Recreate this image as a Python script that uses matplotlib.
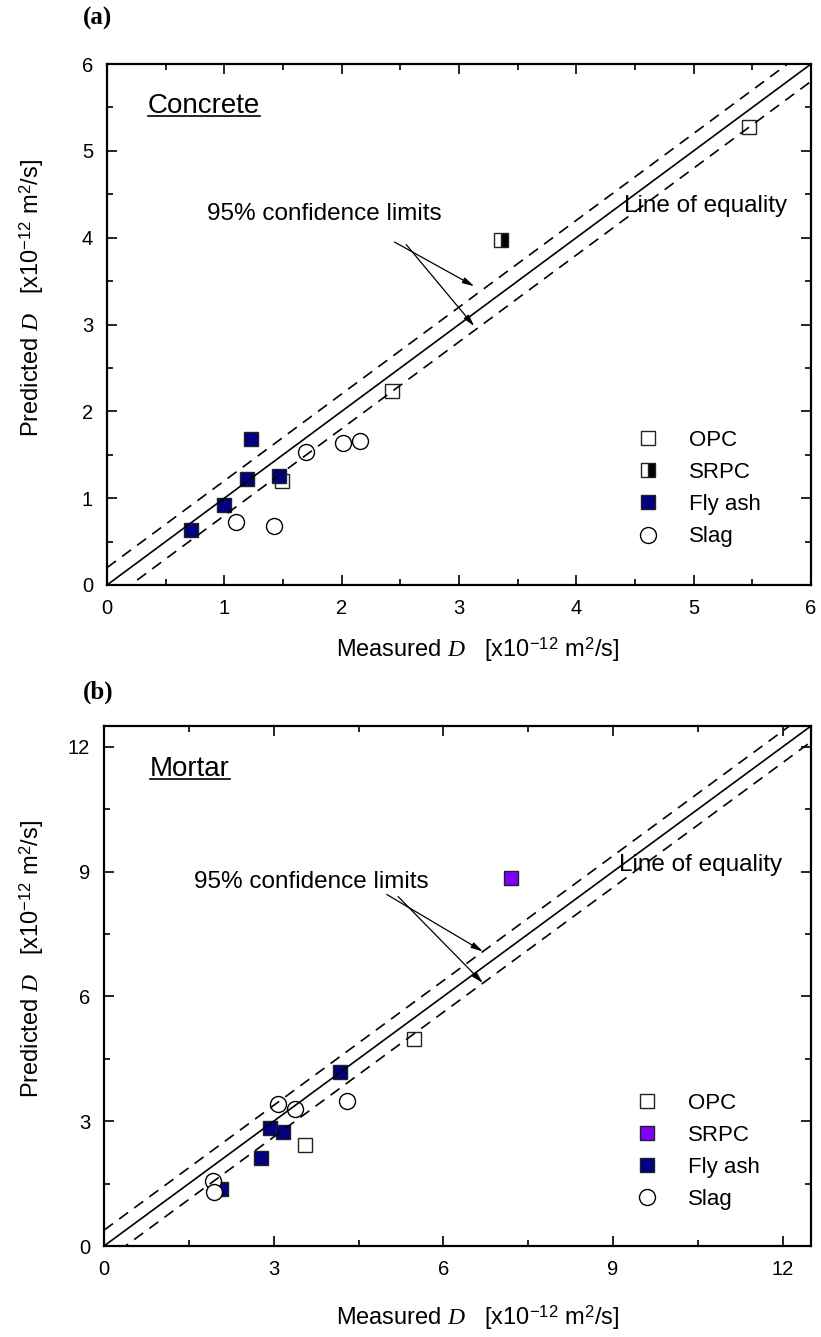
import matplotlib
matplotlib.use('Agg')
import matplotlib.pyplot as plt
from matplotlib.ticker import MultipleLocator
from matplotlib.lines import Line2D

plt.rcParams['font.family'] = ['Liberation Sans', 'DejaVu Sans']
plt.rcParams['mathtext.fontset'] = 'custom'
plt.rcParams['mathtext.rm'] = 'Liberation Sans'
plt.rcParams['mathtext.it'] = 'Liberation Serif:italic'
plt.rcParams['mathtext.bf'] = 'Liberation Sans:bold'
plt.rcParams['lines.scale_dashes'] = False

# ---------------- Data: panel (a) Concrete ----------------
a_opc_x = [1.49, 2.43, 5.47]
a_opc_y = [1.20, 2.23, 5.27]
a_srpc_x = [3.36]
a_srpc_y = [3.97]
a_fly_x = [0.72, 1.00, 1.19, 1.23, 1.47]
a_fly_y = [0.63, 0.92, 1.22, 1.68, 1.25]
a_slag_x = [1.10, 1.42, 1.70, 2.01, 2.16]
a_slag_y = [0.72, 0.68, 1.53, 1.64, 1.66]
a_limit = 0.2

# ---------------- Data: panel (b) Mortar ----------------
b_opc_x = [3.55, 5.48]
b_opc_y = [2.43, 4.98]
b_srpc_x = [7.2]
b_srpc_y = [8.85]
b_fly_x = [2.07, 2.77, 2.93, 3.16, 4.17]
b_fly_y = [1.38, 2.11, 2.84, 2.75, 4.19]
b_slag_x = [1.93, 1.95, 3.08, 3.37, 4.29]
b_slag_y = [1.56, 1.31, 3.42, 3.30, 3.48]
b_limit = 0.38

legend_labels = ['OPC', 'SRPC', 'Fly ash', 'Slag']

fig = plt.figure(figsize=(8.21, 13.37), dpi=100)
W, H = 821, 1337

def px_axes(l, r, t, b):
    return [l / W, 1 - b / H, (r - l) / W, (b - t) / H]

ax_a = fig.add_axes(px_axes(107, 811, 64, 585))
ax_b = fig.add_axes(px_axes(104, 811, 726, 1246))

FLY = '#000080'
MS = 10.5
xlabel = r'Measured $\mathit{D}$   [x10$^{-12}$ m$^2$/s]'
ylabel = r'Predicted $\mathit{D}$   [x10$^{-12}$ m$^2$/s]'


def panel(ax, lim, major, minor, opc, srpc, srpc_style, fly, slag, limit,
          title_txt, title_xy, conf_xy, arrow_tails, arrow_heads, eq_xy,
          leg_anchor, xlab_pos, ylab_pos):
    h_opc, = ax.plot(*opc, 's', ms=MS, mfc='white', mec='#222222', mew=1.0,
                     ls='none', zorder=3)
    h_srpc, = ax.plot(*srpc, 's', ms=MS, ls='none', zorder=3, **srpc_style)
    h_fly, = ax.plot(*fly, 's', ms=MS, mfc=FLY, mec='#222222', mew=1.0,
                     ls='none', zorder=3)
    h_slag, = ax.plot(*slag, 'o', ms=MS + 1, mfc='white', mec='black', mew=1.0,
                      ls='none', zorder=3)
    xs = [0, lim]
    ax.plot(xs, xs, color='black', lw=1.2, zorder=4)
    ax.plot(xs, [x + limit for x in xs], color='black', lw=1.2,
            dashes=(8, 5.5), zorder=4)
    ax.plot(xs, [x - limit for x in xs], color='black', lw=1.2,
            dashes=(8, 5.5), zorder=4)
    ax.set_xlim(0, lim)
    ax.set_ylim(0, lim)
    for axis in (ax.xaxis, ax.yaxis):
        axis.set_major_locator(MultipleLocator(major))
        axis.set_minor_locator(MultipleLocator(minor))
    ax.tick_params(which='both', direction='in', top=True, right=True,
                   labelsize=14.5, width=1.2, pad=10)
    ax.tick_params(which='major', length=7)
    ax.tick_params(which='minor', length=4.5)
    for s in ax.spines.values():
        s.set_linewidth(1.6)
    ax.set_xlabel(xlabel, fontsize=17)
    ax.xaxis.label.set_va('baseline')
    ax.xaxis.set_label_coords(*xlab_pos)
    ax.set_ylabel(ylabel, fontsize=17)
    ax.yaxis.set_label_coords(*ylab_pos)
    t = ax.text(*title_xy, title_txt, fontsize=20, ha='left', va='baseline')
    ax.text(*conf_xy, '95% confidence limits', fontsize=17.5, ha='right',
            va='center')
    for tail, head in zip(arrow_tails, arrow_heads):
        ax.annotate('', xy=head, xytext=tail,
                    arrowprops=dict(arrowstyle='-|>,head_length=0.7,head_width=0.18',
                                    color='black', lw=0.9, shrinkA=0, shrinkB=0))
    ax.text(*eq_xy, 'Line of equality', fontsize=17.5, ha='left', va='center',
            zorder=5)
    ax.legend([h_opc, h_srpc, h_fly, h_slag], legend_labels, loc='center left',
              bbox_to_anchor=leg_anchor, frameon=False, fontsize=16,
              handlelength=1.0, handletextpad=1.35, labelspacing=0.5,
              borderaxespad=0, borderpad=0, numpoints=1)
    return t


t_a = panel(ax_a, 6, 1, 0.5,
            (a_opc_x, a_opc_y), (a_srpc_x, a_srpc_y),
            dict(marker='s', fillstyle='right', mfc='black', mfcalt='white',
                 mec='#222222', mew=1.0),
            (a_fly_x, a_fly_y), (a_slag_x, a_slag_y), a_limit,
            'Concrete', (0.35, 5.44), (2.85, 4.27),
            [(2.45, 3.95), (2.55, 3.92)], [(3.13, 3.44), (3.13, 2.98)],
            (4.41, 4.36), (0.752, 0.185), (0.527, -0.138), (-0.0866, 0.551))

t_b = panel(ax_b, 12.5, 3, 1.5,
            (b_opc_x, b_opc_y), (b_srpc_x, b_srpc_y),
            dict(mfc='#8000FF', mec='#222222', mew=1.0),
            (b_fly_x, b_fly_y), (b_slag_x, b_slag_y), b_limit,
            'Mortar', (0.81, 11.3), (5.74, 8.75),
            [(5.0, 8.45), (5.2, 8.4)], [(6.7, 7.08), (6.7, 6.32)],
            (9.1, 9.15), (0.752, 0.182), (0.529, -0.152), (-0.082, 0.551))

fig.text(83 / W, 1 - 18 / H, '(a)', fontsize=18, fontweight='bold',
         family='Liberation Serif', ha='left', va='center')
fig.text(83 / W, 1 - 692 / H, '(b)', fontsize=18, fontweight='bold',
         family='Liberation Serif', ha='left', va='center')

# underline the panel titles
fig.canvas.draw()
r = fig.canvas.get_renderer()
for t, ax in ((t_a, ax_a), (t_b, ax_b)):
    bb = t.get_window_extent(r)
    base = ax.transData.transform(t.get_position())[1]
    y = base - 3.0
    fig.add_artist(Line2D([bb.x0 / W, bb.x1 / W], [y / H, y / H],
                          color='black', lw=1.2, transform=fig.transFigure))

fig.savefig('out.png', dpi=100)
